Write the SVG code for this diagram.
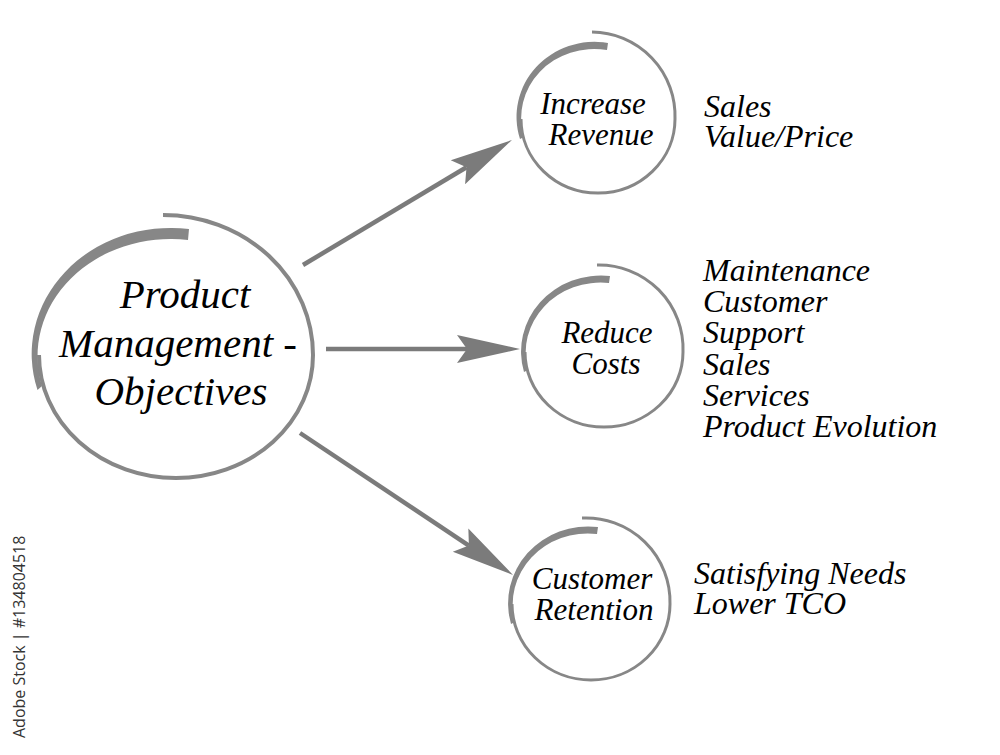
<svg xmlns="http://www.w3.org/2000/svg" width="1000" height="755" viewBox="0 0 1000 755">
  <defs>
    <marker id="head" viewBox="-12 -16 68 32" refX="0" refY="0" markerWidth="68" markerHeight="32" markerUnits="userSpaceOnUse" orient="auto">
      <path d="M53,0 L-10,-14 L0,0 L-10,14 Z" fill="#7b7b7b"/>
    </marker>
  </defs>
  <rect width="1000" height="755" fill="#ffffff"/>

  <g id="connectors" stroke="#7b7b7b" stroke-width="4.5" fill="none">
    <line x1="303" y1="265" x2="466.5" y2="167.2" marker-end="url(#head)"/>
    <line x1="326" y1="349" x2="467" y2="349" marker-end="url(#head)"/>
    <line x1="300" y1="433" x2="468.9" y2="545.6" marker-end="url(#head)"/>
  </g>

  <g id="node-main">
    <path fill="none" stroke="#878787" stroke-width="4" d="M163,215 A 150 140 0 0 1 313,355 A 137 123 0 0 1 176,478 A 137 123 0 0 1 39,355 L39.5,375"/>
    <path fill="#878787" d="M37.5,390 A 139 126 0 0 1 189,229 L188,240 A 133 117 0 0 0 42,386 Z"/>
    <text x="185" y="308" style="font-family:'Liberation Serif';font-style:italic;font-size:41px" text-anchor="middle">Product</text>
    <text x="178" y="357" style="font-family:'Liberation Serif';font-style:italic;font-size:41px" text-anchor="middle">Management -</text>
    <text x="181" y="405" style="font-family:'Liberation Serif';font-style:italic;font-size:41px" text-anchor="middle">Objectives</text>
  </g>

  <g id="node-revenue">
    <g transform="translate(598,119)">
      <path fill="none" stroke="#878787" stroke-width="3" d="M-6,-87 A 84 84 0 0 1 77,0 A 77 74 0 0 1 0,74 A 77 74 0 0 1 -77,0 L-77,14"/>
      <path fill="#878787" d="M-78,20 A 78 75 0 0 1 10,-76 L9,-69 A 73 69 0 0 0 -74,18 Z"/>
    </g>
    <text x="593" y="114" style="font-family:'Liberation Serif';font-style:italic;font-size:31px" text-anchor="middle">Increase</text>
    <text x="601" y="145" style="font-family:'Liberation Serif';font-style:italic;font-size:31px" text-anchor="middle">Revenue</text>
  </g>
  <g id="list-revenue">
    <text x="704" y="117" style="font-family:'Liberation Serif';font-style:italic;font-size:32px">Sales</text>
    <text x="704" y="147" style="font-family:'Liberation Serif';font-style:italic;font-size:32px">Value/Price</text>
  </g>

  <g id="node-costs">
    <g transform="translate(604,352)">
      <path fill="none" stroke="#878787" stroke-width="3" d="M-7,-87 A 84 84 0 0 1 79,0 A 79 75 0 0 1 0,75 A 79 75 0 0 1 -79,0 L-79,14"/>
      <path fill="#878787" d="M-80,20 A 80 76 0 0 1 6,-76 L5,-69 A 75 70 0 0 0 -76,18 Z"/>
    </g>
    <text x="607" y="343" style="font-family:'Liberation Serif';font-style:italic;font-size:31px" text-anchor="middle">Reduce</text>
    <text x="606" y="374" style="font-family:'Liberation Serif';font-style:italic;font-size:31px" text-anchor="middle">Costs</text>
  </g>
  <g id="list-costs">
    <text x="703" y="281" style="font-family:'Liberation Serif';font-style:italic;font-size:32px">Maintenance</text>
    <text x="703" y="312" style="font-family:'Liberation Serif';font-style:italic;font-size:32px">Customer</text>
    <text x="703" y="343" style="font-family:'Liberation Serif';font-style:italic;font-size:32px">Support</text>
    <text x="703" y="375" style="font-family:'Liberation Serif';font-style:italic;font-size:32px">Sales</text>
    <text x="703" y="406" style="font-family:'Liberation Serif';font-style:italic;font-size:32px">Services</text>
    <text x="703" y="437" style="font-family:'Liberation Serif';font-style:italic;font-size:32px">Product Evolution</text>
  </g>

  <g id="node-retention">
    <g transform="translate(591,604)">
      <path fill="none" stroke="#878787" stroke-width="3" d="M-9,-86 A 84 84 0 0 1 79,0 A 79 76 0 0 1 0,76 A 79 76 0 0 1 -79,0 L-79,14"/>
      <path fill="#878787" d="M-80,20 A 80 77 0 0 1 7,-77 L6,-70 A 75 71 0 0 0 -76,18 Z"/>
    </g>
    <text x="592" y="589" style="font-family:'Liberation Serif';font-style:italic;font-size:31px" text-anchor="middle">Customer</text>
    <text x="594" y="620" style="font-family:'Liberation Serif';font-style:italic;font-size:31px" text-anchor="middle">Retention</text>
  </g>
  <g id="list-retention">
    <text x="694" y="584" style="font-family:'Liberation Serif';font-style:italic;font-size:32px">Satisfying Needs</text>
    <text x="694" y="614" style="font-family:'Liberation Serif';font-style:italic;font-size:32px">Lower TCO</text>
  </g>

  <text style="font-family:'Open Sans';font-size:16px" fill="#333" transform="translate(25,738) rotate(-90)">Adobe Stock | #134804518</text>
</svg>
